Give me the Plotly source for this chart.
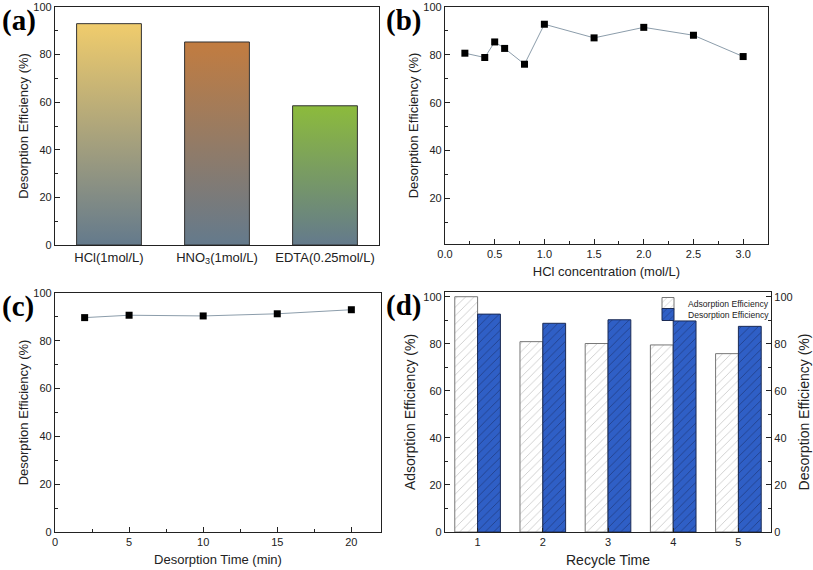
import plotly.graph_objects as go

# ---------------- data ----------------
# (a) eluent comparison
eluents = ["HCl(1mol/L)", "HNO<sub>3</sub>(1mol/L)", "EDTA(0.25mol/L)"]
eluent_eff = [93.0, 85.3, 58.5]
eluent_top_colors = ["#F0CC6C", "#C27C40", "#8CBB3C"]
eluent_bottom_color = "#647A8C"

# (b) HCl concentration
hcl_conc = [0.2, 0.4, 0.5, 0.6, 0.8, 1.0, 1.5, 2.0, 2.5, 3.0]
hcl_eff = [80.7, 78.9, 85.4, 82.7, 76.1, 92.8, 87.1, 91.5, 88.2, 79.3]

# (c) desorption time
des_time = [2, 5, 10, 15, 20]
time_eff = [89.7, 90.7, 90.4, 91.3, 93.0]

# (d) recycle
cycles = [1, 2, 3, 4, 5]
ads_eff = [100.0, 80.9, 80.1, 79.5, 75.8]
des_eff = [92.6, 88.7, 90.2, 89.7, 87.4]

# ---------------- figure ----------------
W, H = 813, 570
FONT = "Liberation Sans, Arial, sans-serif"
AX = "#222222"

def px(x):
    return x / W

def py(y):
    return 1 - y / H

fig = go.Figure()

# (a) gradient bars
half = 0.3
for i, (v, top) in enumerate(zip(eluent_eff, eluent_top_colors)):
    fig.add_trace(go.Scatter(
        x=[i - half, i - half, i + half, i + half, i - half],
        y=[0, v, v, 0, 0],
        mode="lines", fill="toself",
        line=dict(color="#333333", width=1),
        fillgradient=dict(type="vertical",
                          colorscale=[[0, eluent_bottom_color], [1, top]],
                          start=0, stop=v),
        xaxis="x", yaxis="y", showlegend=False, hoverinfo="skip"))

# (b)
fig.add_trace(go.Scatter(x=hcl_conc, y=hcl_eff, mode="lines+markers",
                         line=dict(color="#8C9DAB", width=1),
                         marker=dict(symbol="square", size=7, color="black"),
                         xaxis="x2", yaxis="y2", showlegend=False))

# (c)
fig.add_trace(go.Scatter(x=des_time, y=time_eff, mode="lines+markers",
                         line=dict(color="#8C9DAB", width=1),
                         marker=dict(symbol="square", size=7, color="black"),
                         xaxis="x3", yaxis="y3", showlegend=False))

# (d)
fig.add_trace(go.Bar(x=cycles, y=ads_eff, name="Adsorption Efficiency",
                     width=0.35, offset=-0.35, legend="legend",
                     marker=dict(color="white", line=dict(color="#777777", width=1),
                                 pattern=dict(shape="/", fgcolor="#9A9A9A", bgcolor="white",
                                              size=6, solidity=0.15)),
                     xaxis="x4", yaxis="y4"))
fig.add_trace(go.Bar(x=cycles, y=des_eff, name="Desorption Efficiency",
                     width=0.35, offset=0, legend="legend2",
                     marker=dict(color="#2F5FC6", line=dict(color="#1B2B55", width=1),
                                 pattern=dict(shape="/", fgcolor="#15224F", bgcolor="#2F5FC6",
                                              size=6, solidity=0.15)),
                     xaxis="x4", yaxis="y5"))

def yax(domain, rng, title, anchor, side="left", standoff=6, tsize=12):
    return dict(domain=domain, range=rng, anchor=anchor, side=side, automargin=False,
                showline=True, linecolor=AX, linewidth=1.2, mirror=True,
                ticks="inside", ticklen=5, tickcolor=AX, dtick=20, tick0=0,
                minor=dict(ticks="inside", ticklen=3, dtick=10, tickcolor=AX),
                showgrid=False, zeroline=False,
                tickfont=dict(family=FONT, size=11, color=AX),
                title=dict(text=title, font=dict(family=FONT, size=tsize, color=AX), standoff=standoff))

def xax(domain, anchor, **kw):
    d = dict(domain=domain, anchor=anchor, automargin=False,
             showline=True, linecolor=AX, linewidth=1.2, mirror=True,
             showgrid=False, zeroline=False,
             tickfont=dict(family=FONT, size=11, color=AX))
    d.update(kw)
    return d

leg_common = dict(xanchor="left", yanchor="top", bgcolor="rgba(255,255,255,0)", borderwidth=0,
                  font=dict(family=FONT, size=8.6, color=AX), itemwidth=30)

fig.update_layout(
    width=W, height=H, margin=dict(l=0, r=0, t=0, b=0, autoexpand=False),
    paper_bgcolor="white", plot_bgcolor="white",
    font=dict(family=FONT, color=AX),
    barmode="overlay",
    xaxis=xax([px(55), px(379)], "y", range=[-0.5, 2.5], tickvals=[0, 1, 2], ticktext=eluents,
              ticks="", tickfont=dict(family=FONT, size=13, color=AX)),
    yaxis=yax([py(245), py(7)], [0, 100], "Desorption Efficiency (%)", "x", standoff=1, tsize=13),
    xaxis2=xax([px(445), px(768)], "y2", range=[0, 3.25], dtick=0.5, tickformat=".1f",
               ticks="inside", ticklen=5, tickcolor=AX,
               minor=dict(ticks="inside", ticklen=3, dtick=0.25, tickcolor=AX),
               title=dict(text="HCl concentration (mol/L)", font=dict(family=FONT, size=13, color=AX),
                          standoff=7)),
    yaxis2=yax([py(244), py(7)], [1, 100], "Desorption Efficiency (%)", "x2", standoff=1, tsize=13),
    xaxis3=xax([px(55), px(381)], "y3", range=[0, 22], dtick=5,
               ticks="inside", ticklen=5, tickcolor=AX,
               minor=dict(ticks="inside", ticklen=3, dtick=2.5, tickcolor=AX),
               title=dict(text="Desorption Time (min)", font=dict(family=FONT, size=13, color=AX),
                          standoff=7)),
    yaxis3=yax([py(532), py(293)], [0, 100], "Desorption Efficiency (%)", "x3", standoff=1, tsize=13),
    xaxis4=xax([px(445), px(771)], "y4", range=[0.5, 5.5], tickvals=cycles,
               ticks="inside", ticklen=4, tickcolor=AX,
               title=dict(text="Recycle Time", font=dict(family=FONT, size=14, color=AX), standoff=7)),
    yaxis4=yax([py(532), py(292)], [0, 102], "Adsorption Efficiency (%)", "x4", standoff=4, tsize=14),
    yaxis5=dict(yax([py(532), py(292)], [0, 102], "Desorption Efficiency (%)", "x4",
                    side="right", standoff=7, tsize=14), overlaying="y4", mirror=False),
    legend=dict(leg_common, x=px(648), y=py(289)),
    legend2=dict(leg_common, x=px(648), y=py(300)),
)

labels = [("(a)", 0, 2), ("(b)", 384, 2), ("(c)", 0, 288), ("(d)", 384, 287)]
for t, x, y in labels:
    fig.add_annotation(text="<b>%s</b>" % t, x=px(x), y=py(y), xref="paper", yref="paper",
                       xanchor="left", yanchor="top", showarrow=False,
                       font=dict(family="Liberation Serif, Times New Roman, serif", size=29, color="black"))

fig.write_html("out.html", config={"displayModeBar": False},
               post_script="document.body.style.margin='0';document.body.style.padding='0';")
